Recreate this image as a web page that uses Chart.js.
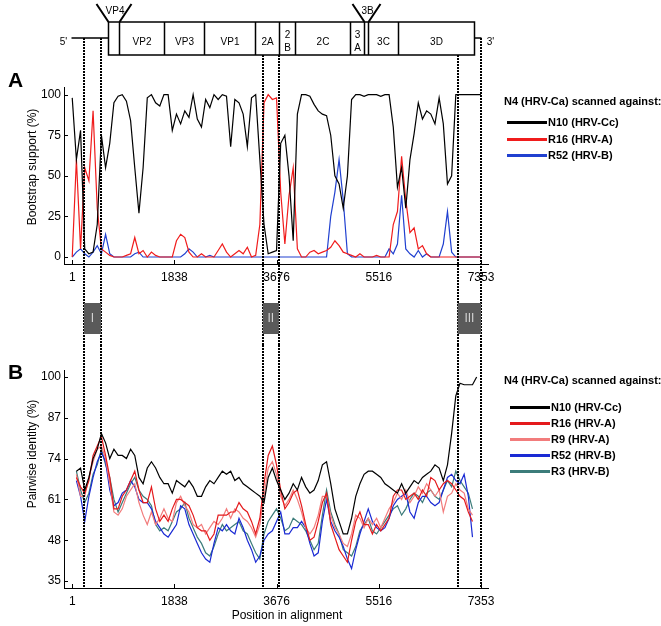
<!DOCTYPE html>
<html>
<head>
<meta charset="utf-8">
<script src="https://cdn.jsdelivr.net/npm/chart.js@4.4.1/dist/chart.umd.min.js"></script>
<style>
body { margin: 0; background: #fff; font-family: "Liberation Sans", Arial, sans-serif; }
#wrap { position: relative; width: 661px; height: 626px; overflow: hidden; }
canvas { position: absolute; left: 0; }
.panel { position: absolute; left: 8px; font-weight: bold; font-size: 21px; line-height: 21px; }
.lg { position: absolute; font-size: 11px; font-weight: bold; white-space: nowrap; line-height: 12px; }
.lgline { position: absolute; height: 3px; }
</style>
</head>
<body>
<div id="wrap">
  <canvas id="cA" width="661" height="345" style="top:0"></canvas>
  <canvas id="cB" width="661" height="281" style="top:345px"></canvas>
  <div class="panel" style="top:69px">A</div>
  <div class="panel" style="top:361px">B</div>
</div>
<script>
// alignment positions sampled for the scans
const posA = [0,75,150,225,300,375,450,525,600,675,750,825,900,975,1050,1125,1200,1275,1350,1425,
  1500,1575,1650,1725,1800,1875,1950,2025,2100,2175,2250,2325,2400,2475,2550,2625,2700,2775,2850,2925,
  3000,3075,3150,3225,3300,3375,3450,3525,3600,3675,3750,3825,3900,3975,4050,4125,4200,4275,4350,4425,
  4500,4575,4650,4725,4800,4875,4950,5025,5100,5175,5250,5325,5400,5475,5550,5625,5700,5775,5850,5925,
  6000,6075,6150,6225,6300,6375,6450,6525,6600,6675,6750,6825,6900,6975,7050,7125,7200,7275,7350];
const posB = posA.slice(1, 98);

const xTicks = [1, 1838, 3676, 5516, 7353];
const bootTicks = [0, 25, 50, 75, 100];
const identTicks = [35, 48, 61, 74, 87, 100];

// A: bootstrap support (%)
const bootN10 = [98,60,78,5,2,3,20,75,55,70, 95,99,100,96,84,55,27,55,98,100, 95,93,100,100,78,88,82,90,86,100,
  85,80,97,92,100,97,100,99,68,97, 95,88,68,98,100,60,20,2,3,4, 70,75,50,10,88,100,100,99,94,90,
  88,87,75,50,45,30,50,97,100,100, 99,100,100,100,99,100,100,80,43,55, 30,60,76,95,85,90,88,82,98,82,
  45,50,100,100,100,100,100,100,100];
const bootR16 = [0,60,5,55,47,90,30,5,3,1, 0,0,0,1,2,12,2,4,0,3, 1,0,0,0,0,10,14,12,3,0,
  0,2,0,0,0,4,8,3,0,2, 4,2,6,0,1,20,95,100,97,98, 40,8,38,55,5,0,0,3,4,2,
  3,4,6,10,7,3,2,1,0,2, 0,0,0,1,0,0,0,20,28,62, 35,15,18,5,7,2,0,0,0,0,
  0,0,0,0,0,0,0,0,0];
const bootR52 = [0,3,5,2,0,3,7,2,14,2, 0,0,0,0,0,2,3,0,0,0, 0,0,0,0,0,0,0,2,5,3,
  0,0,0,1,0,0,0,0,0,0, 0,0,0,0,0,0,0,0,0,0, 0,0,0,0,0,0,0,0,0,0,
  0,0,25,40,60,35,2,0,0,0, 0,0,0,0,0,0,5,2,8,38, 5,2,0,4,0,2,0,0,0,8,
  28,3,0,0,0,0,0,0,0];

// B: pairwise identity (%)
const identN10 = [70,71,64,68,74,77,82,79,74,77, 75,75,74,77,75,68,66,71,73,71, 68,66,66,63,67,66,65,67,65,62,
  62,65,67,66,68,70,69,70,67,68, 66,65,64,63,62,60,68,71,67,64, 61,63,66,64,68,65,63,64,67,72,
  73,66,58,54,50,50,55,62,66,69, 70,70,69,68,66,65,64,63,66,63, 65,67,66,68,69,70,72,71,67,72,
  82,94,98,97.5,97.5,97.5,100];
const identR16 = [68,65,63,67,75,78,81,75,68,58, 58,62,64,67,70,64,60,60,65,58, 54,56,54,58,61,61,60,59,56,52,
  51,51,48,50,56,56,56,57,57,60, 58,57,54,50,55,66,75,78,72,64, 58,60,63,64,59,53,48,49,54,60,
  63,53,49,45,43,41,48,54,57,53, 53,50,53,51,53,55,62,64,64,61, 62,63,61,64,62,68,67,64,66,67,
  66,64,62,61,57,54];
const identR9 = [69,62,62,68,73,77,78,74,66,57, 56,58,62,64,66,60,56,53,57,53, 55,58,55,54,60,62,59,57,53,52,
  53,50,52,54,53,55,58,55,58,57, 55,54,52,49,53,62,71,73,69,62, 59,61,64,61,57,52,50,52,56,62,
  62,56,52,50,47,46,50,56,55,52, 55,53,55,52,55,58,60,63,61,64, 60,62,65,63,66,64,62,64,57,62,
  63,66,64,63,58,56];
const identR52 = [67,62,54,62,68,73,76,73,64,59, 60,63,64,67,65,61,60,60,58,54, 52,50,49,51,53,59,58,53,50,47,
  44,42,41,47,52,51,53,51,50,55, 52,48,45,41,43,48,50,51,54,57, 50,50,52,52,54,52,47,43,44,54,
  61,54,51,49,46,42,39,45,50,54, 58,54,52,51,52,55,59,61,62,63, 57,55,60,62,62,60,59,60,64,68,
  69,67,66,69,62,49];
const identR3 = [70,64,60,63,69,72,77,72,68,61, 57,60,63,66,68,64,62,61,59,53, 51,52,51,54,57,58,60,55,52,49,
  47,44,43,46,50,53,51,52,53,54, 51,50,47,44,42,50,54,56,58,55, 51,52,55,54,53,51,48,45,47,56,
  64,57,53,50,45,44,43,46,51,53, 55,51,50,52,54,56,58,59,56,58, 61,63,62,60,63,64,62,61,64,67,
  65,70,67,65,63,58];

// genome map (alignment positions)
const genomeNames = ['VP4','VP2','VP3','VP1','2A','2B','2C','3A','3B','3C','3D'];
const genomeBounds = [643, 840, 1649, 2368, 3285, 3716, 4004, 4993, 5245, 5317, 5856, 7222];
const utr5Start = -20, utr3End = 7353;

// recombination regions
const regionNames = ['I', 'II', 'III'];
const regionStart = [211, 3429, 6935];
const regionEnd = [517, 3716, 7353];

const FONT = '"Liberation Sans", Arial, sans-serif';
Chart.defaults.font.family = FONT;
Chart.defaults.color = '#000';

function toXY(pos, vals) {
  return pos.map((p, i) => ({ x: p, y: vals[i] === undefined ? null : vals[i] }));
}

function xScale() {
  return {
    type: 'linear', min: -148, max: 7479,
    afterBuildTicks: s => { s.ticks = xTicks.map(v => ({ value: v })); },
    afterFit: s => { s.height = 30; },
    grid: { display: false, drawTicks: false },
    border: { display: true, color: '#000', width: 1 },
    ticks: { autoSkip: false, maxRotation: 0, padding: 6, font: { size: 12 }, callback: v => String(v) }
  };
}

function yScale(min, max, ticks) {
  return {
    min: min, max: max,
    afterBuildTicks: s => { s.ticks = ticks.map(v => ({ value: v })); },
    afterFit: s => { s.width = 64; },
    grid: { display: false, drawTicks: false },
    border: { display: true, color: '#000', width: 1 },
    ticks: { padding: 3, font: { size: 12 } }
  };
}

function line(label, color, data) {
  return { label: label, data: data, borderColor: color, backgroundColor: color,
    borderWidth: 1.2, pointRadius: 0, tension: 0, spanGaps: false };
}

// inward tick marks and axis titles, placed like the original plot
const axisDeco = {
  id: 'axisDeco',
  afterDraw(chart, args, opts) {
    const { ctx, chartArea: a, scales: { x, y } } = chart;
    ctx.save();
    ctx.strokeStyle = '#000'; ctx.lineWidth = 1;
    ctx.beginPath();
    x.ticks.forEach(t => {
      const p = Math.round(x.getPixelForValue(t.value)) + 0.5;
      ctx.moveTo(p, a.bottom); ctx.lineTo(p, a.bottom - 4);
    });
    y.ticks.forEach(t => {
      const p = Math.round(y.getPixelForValue(t.value)) + 0.5;
      ctx.moveTo(a.left, p); ctx.lineTo(a.left + 4, p);
    });
    ctx.stroke();
    ctx.fillStyle = '#000';
    ctx.font = '12px ' + FONT;
    ctx.textAlign = 'center'; ctx.textBaseline = 'middle';
    if (opts.yTitle) {
      ctx.save();
      ctx.translate(33, opts.yTitleAt);
      ctx.rotate(-Math.PI / 2);
      ctx.fillText(opts.yTitle, 0, 0);
      ctx.restore();
    }
    if (opts.xTitle) ctx.fillText(opts.xTitle, opts.xTitleAt, a.bottom + 28);
    ctx.restore();
  }
};

function drawRegionLines(chart, fromY, toY) {
  const ctx = chart.ctx, x = chart.scales.x;
  const b0 = genomeBounds[0], b1 = genomeBounds[genomeBounds.length - 1];
  ctx.save();
  ctx.strokeStyle = '#000'; ctx.lineWidth = 2; ctx.setLineDash([2, 1]);
  regionStart.concat(regionEnd).forEach(v => {
    const p = Math.round(x.getPixelForValue(v));
    const y0 = typeof fromY === 'function' ? fromY(v > b0 && v < b1) : fromY;
    ctx.beginPath(); ctx.moveTo(p, y0); ctx.lineTo(p, toY); ctx.stroke();
  });
  ctx.restore();
}

const genomeMap = {
  id: 'genomeMap',
  afterDraw(chart) {
    const ctx = chart.ctx, x = chart.scales.x;
    const px = v => Math.round(x.getPixelForValue(v)) + 0.5;
    const top = 22, bot = 55, mid = 38;
    const first = genomeBounds[0], last = genomeBounds[genomeBounds.length - 1];
    ctx.save();
    ctx.strokeStyle = '#000'; ctx.fillStyle = '#000'; ctx.lineWidth = 1.5;
    ctx.beginPath();
    ctx.moveTo(px(utr5Start), mid); ctx.lineTo(px(first), mid);
    ctx.moveTo(px(last), mid); ctx.lineTo(px(utr3End), mid);
    ctx.rect(px(first), top, px(last) - px(first), bot - top);
    genomeBounds.slice(1, -1).forEach(b => { ctx.moveTo(px(b), top); ctx.lineTo(px(b), bot); });
    ctx.stroke();

    ctx.font = '10px ' + FONT;
    ctx.textAlign = 'center'; ctx.textBaseline = 'middle';
    genomeNames.forEach((n, k) => {
      const l = px(genomeBounds[k]), r = px(genomeBounds[k + 1]), c = (l + r) / 2;
      if (r - l < 14) {
        ctx.beginPath(); ctx.lineWidth = 2;
        ctx.moveTo(l, top); ctx.lineTo(l - 12, 4);
        ctx.moveTo(r, top); ctx.lineTo(r + 12, 4);
        ctx.stroke();
        ctx.fillText(n, c + 1, 11);
      } else if (r - l < 22) {
        ctx.fillText(n[0], c, 35); ctx.fillText(n[1], c, 48);
      } else {
        ctx.fillText(n, c, 42);
      }
    });
    ctx.fillText("5'", px(utr5Start) - 8, 42);
    ctx.fillText("3'", px(utr3End) + 9, 42);
    ctx.restore();

    drawRegionLines(chart, inside => inside ? bot : mid, chart.height);

    ctx.save();
    ctx.font = '12px ' + FONT;
    ctx.textAlign = 'center'; ctx.textBaseline = 'middle';
    regionNames.forEach((n, k) => {
      const l = x.getPixelForValue(regionStart[k]), r = x.getPixelForValue(regionEnd[k]);
      ctx.fillStyle = '#5a5a5a';
      ctx.fillRect(l, 303, r - l, 31);
      ctx.fillStyle = '#d4d4d4';
      ctx.fillText(n, (l + r) / 2, 319);
    });
    ctx.restore();
  }
};

const regionLinesB = {
  id: 'regionLinesB',
  afterDraw(chart) { drawRegionLines(chart, 0, chart.chartArea.bottom); }
};

new Chart(document.getElementById('cA'), {
  type: 'line',
  data: { datasets: [
    line('N10 (HRV-Cc)', '#000000', toXY(posA, bootN10)),
    line('R16 (HRV-A)', '#f01c1c', toXY(posA, bootR16)),
    line('R52 (HRV-B)', '#2040d0', toXY(posA, bootR52))
  ] },
  options: {
    responsive: false, animation: false,
    layout: { padding: { left: 0, right: 173, top: 87, bottom: 51 } },
    scales: { x: xScale(), y: yScale(-4.3, 104.7, bootTicks) },
    plugins: { legend: { display: false }, tooltip: { enabled: false },
      axisDeco: { yTitle: 'Bootstrap support (%)', yTitleAt: 167 } }
  },
  plugins: [axisDeco, genomeMap]
});

new Chart(document.getElementById('cB'), {
  type: 'line',
  data: { datasets: [
    line('N10 (HRV-Cc)', '#000000', toXY(posB, identN10)),
    line('R16 (HRV-A)', '#e41a1c', toXY(posB, identR16)),
    line('R9 (HRV-A)', '#f27c7c', toXY(posB, identR9)),
    line('R52 (HRV-B)', '#1a2ad4', toXY(posB, identR52)),
    line('R3 (HRV-B)', '#3c7c7a', toXY(posB, identR3))
  ] },
  options: {
    responsive: false, animation: false,
    layout: { padding: { left: 0, right: 173, top: 25, bottom: 8 } },
    scales: { x: xScale(), y: yScale(32.8, 102.2, identTicks) },
    plugins: { legend: { display: false }, tooltip: { enabled: false },
      axisDeco: { yTitle: 'Pairwise identity (%)', yTitleAt: 109, xTitle: 'Position in alignment', xTitleAt: 287 } }
  },
  plugins: [axisDeco, regionLinesB]
});

// legends
const legendTitle = 'N4 (HRV-Ca) scanned against:';
function legend(titleY, rowY, step, lineX, names, colors) {
  const wrap = document.getElementById('wrap');
  const t = document.createElement('div');
  t.className = 'lg'; t.textContent = legendTitle;
  t.style.left = '504px'; t.style.top = (titleY - 6) + 'px';
  wrap.appendChild(t);
  names.forEach((n, k) => {
    const y = rowY + k * step;
    const l = document.createElement('div');
    l.className = 'lgline';
    l.style.left = lineX + 'px'; l.style.width = '40px'; l.style.top = (y - 1) + 'px';
    l.style.background = colors[k];
    wrap.appendChild(l);
    const s = document.createElement('div');
    s.className = 'lg'; s.textContent = n;
    s.style.left = (lineX + 41) + 'px'; s.style.top = (y - 6) + 'px';
    wrap.appendChild(s);
  });
}
legend(101, 122, 16.5, 507, ['N10 (HRV-Cc)', 'R16 (HRV-A)', 'R52 (HRV-B)'], ['#000', '#f01c1c', '#2040d0']);
legend(380, 407, 16, 510, ['N10 (HRV-Cc)', 'R16 (HRV-A)', 'R9 (HRV-A)', 'R52 (HRV-B)', 'R3 (HRV-B)'],
  ['#000', '#e41a1c', '#f27c7c', '#1a2ad4', '#3c7c7a']);
</script>
</body>
</html>
